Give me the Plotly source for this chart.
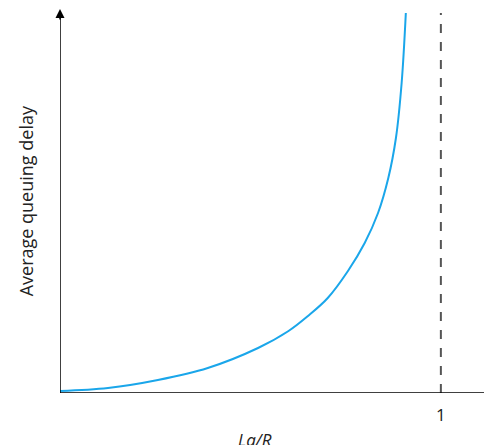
import plotly.graph_objects as go

# curve (x in units of La/R, y arbitrary delay units)
x_vals = [0, 0.126, 0.257, 0.388, 0.52, 0.6, 0.651, 0.703, 0.756, 0.8, 0.835, 0.862, 0.882, 0.897, 0.908]
y_vals = [2, 5, 13, 25, 45, 62, 77, 95, 122, 150, 180, 215, 255, 310, 380]
x_tick_vals = [1]
x_tick_text = ["1"]

fig = go.Figure()
fig.add_trace(go.Scatter(x=x_vals, y=y_vals, mode="lines", line=dict(color="#1aa6ea", width=2, shape="spline", smoothing=1.0), hoverinfo="skip"))
fig.add_shape(type="line", x0=1, x1=1, y0=0, y1=380, xref="x", yref="y", line=dict(color="#555", width=2, dash="dash"))
fig.add_shape(type="line", x0=0, x1=1.14, y0=0, y1=0, xref="x", yref="y", line=dict(color="black", width=1.5))
fig.add_shape(type="line", x0=0, x1=0, y0=0, y1=380, xref="x", yref="y", line=dict(color="black", width=1.5))
# arrowheads
fig.add_annotation(x=1.15, y=0, ax=-12, ay=0, xref="x", yref="y", showarrow=True, arrowhead=2, arrowsize=1.2, arrowwidth=1.5, arrowcolor="black", text="")
fig.add_annotation(x=0, y=384, ax=0, ay=12, xref="x", yref="y", showarrow=True, arrowhead=2, arrowsize=1.2, arrowwidth=1.5, arrowcolor="black", text="")
fig.add_annotation(x=245, y=432, xref="x domain", yref="paper", text="<i>La/R</i>", showarrow=False, font=dict(size=17, color="#222"), yanchor="middle")
fig.add_annotation(x=0.445, y=-0.122, xref="paper", yref="paper", text="<i>La/R</i>", showarrow=False, font=dict(size=17, color="#222"), yanchor="middle", visible=False)
fig.add_annotation(x=-0.078, y=0.5, xref="paper", yref="paper", text="Average queuing delay", textangle=-90, showarrow=False, font=dict(size=18, color="#222"), xanchor="center")

fig.layout.annotations[2].update(visible=False)
fig.layout.annotations[3].update(visible=True)

fig.update_layout(
    width=492, height=445, margin=dict(l=52, r=2, t=0, b=60, autoexpand=False),
    plot_bgcolor="white", paper_bgcolor="white", showlegend=False,
    font=dict(family="Open Sans, sans-serif"),
    xaxis=dict(range=[0, 1.15], showgrid=False, zeroline=False, showline=False, automargin=False,
               tickvals=x_tick_vals, ticktext=x_tick_text, ticks="", ticklabelstandoff=10, tickfont=dict(size=17, color="#222")),
    yaxis=dict(range=[0, 385], showgrid=False, zeroline=False, showline=False, showticklabels=False, automargin=False),
)
fig.write_html("out.html")
